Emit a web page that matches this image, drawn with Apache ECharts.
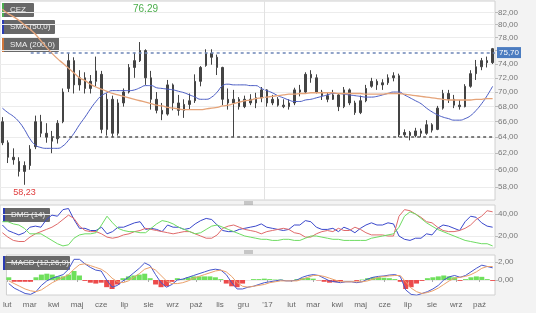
<!DOCTYPE html>
<html><head><meta charset="utf-8">
<script src="https://cdn.jsdelivr.net/npm/echarts@6/dist/echarts.min.js"></script>
<style>html,body{margin:0;padding:0;background:#f3f3f3}#c{width:536px;height:313px}</style>
</head><body><div id="c"></div>
<script>
// ---- data (weekly, CEZ) ----
const firstWeek = '2016-02-03';
const ohlcOpen  = [66.0,63.3,61.5,61.0,59.8,60.5,62.8,66.0,64.5,64.0, 63.8,66.0,70.5,74.5,71.0,72.0,70.5,71.5,72.5,65.0, 69.0,64.5,68.5,70.0,73.5,74.5,76.0,72.0,69.0,67.5, 67.0,71.0,68.5,67.5,68.3,68.8,71.5,73.8,75.6,75.0, 73.5,69.0,68.5,69.0,68.0,69.0,68.5,69.2,70.3,68.5, 69.0,68.2,68.0,68.5,70.3,70.0,72.5,72.0,70.0,69.5, 69.0,69.6,68.0,70.3,68.5,67.2,68.8,70.8,71.5,71.0, 71.3,72.0,72.3,64.3,64.6,64.2,64.8,64.5,65.6,65.0, 67.8,69.8,69.0,68.2,68.0,70.8,72.6,73.6,74.5,74.2];
const ohlcClose = [63.3,61.5,61.2,59.8,60.5,62.5,66.0,64.5,64.0,63.5, 65.8,70.0,74.5,71.0,72.0,70.5,71.5,73.0,65.0,69.0, 64.5,68.5,70.0,73.5,74.5,76.0,72.0,69.0,67.5,67.0, 71.0,68.5,67.5,68.3,68.8,71.5,73.5,75.6,75.0,73.5, 69.0,68.5,69.0,68.0,69.0,68.5,69.2,70.3,68.5,69.0, 68.2,68.0,68.5,70.3,70.0,72.5,72.0,70.0,69.5,69.0, 69.6,68.0,70.3,68.5,67.2,68.8,70.5,71.5,71.0,71.3, 72.0,72.3,64.3,64.6,64.2,64.8,64.5,65.6,64.9,67.8, 69.8,69.0,68.2,68.0,70.8,72.6,73.6,74.5,74.2,76.29];
const ohlcLow   = [63.0,60.8,60.6,59.2,58.23,60.0,62.5,64.0,63.3,62.0, 63.2,65.8,70.0,69.8,70.2,69.8,69.8,70.8,64.5,64.2, 64.0,64.2,68.0,69.8,72.0,74.3,71.0,67.6,67.1,66.2, 66.8,67.5,66.8,66.5,67.6,68.5,70.8,73.6,73.9,72.4, 68.2,67.6,64.0,67.6,67.8,68.2,67.8,68.6,68.0,68.2, 68.0,67.8,67.6,68.2,69.4,69.8,71.3,69.8,68.9,68.6, 68.9,67.4,67.8,68.2,66.9,67.0,68.6,70.6,70.3,70.3, 71.0,71.5,64.0,64.0,63.6,64.0,64.0,64.3,64.6,64.9, 67.6,68.5,67.8,67.6,67.9,70.6,71.7,73.1,73.5,74.0];
const ohlcHigh  = [66.6,63.6,62.6,61.5,61.0,63.0,66.8,66.9,65.8,64.8, 66.2,70.5,75.6,75.0,73.1,72.8,72.4,75.1,73.0,69.8, 69.5,69.0,70.5,74.0,75.7,77.3,76.2,73.0,70.0,68.5, 71.7,71.2,69.6,69.0,69.8,72.5,73.7,76.2,76.2,75.4, 73.6,70.5,70.3,69.3,69.5,69.7,69.9,70.7,70.4,69.6, 69.3,69.0,69.0,70.6,71.0,72.8,73.1,72.5,70.3,70.0, 70.3,69.8,70.7,70.5,68.8,69.5,71.0,72.0,71.8,71.8, 72.5,72.8,72.6,65.0,64.8,65.2,65.1,66.2,65.8,68.1, 70.3,70.3,69.6,68.9,71.1,73.1,74.6,74.9,75.1,76.4];
const sma50  = [67.8,67.2,66.7,66.0,65.0,63.8,63.0,62.7,62.6,62.6, 62.6,62.9,63.6,64.5,65.6,66.6,67.7,68.7,69.5,69.9, 70.2,70.2,70.2,70.2,70.3,70.6,70.9,70.9,70.6,70.5, 70.4,70.3,70.1,69.9,69.6,69.3,69.0,69.0,69.3,70.0, 70.9,71.1,71.0,71.0,71.0,70.9,70.9,70.5,70.2,69.9, 69.5,69.2,68.9,68.7,68.7,68.9,69.0,69.2,69.4,69.6, 69.8,69.8,69.7,69.6,69.5,69.4,69.3,69.3,69.4,69.6, 69.8,70.0,70.0,69.6,69.2,68.8,68.4,67.8,67.3,66.9, 66.6,66.4,66.2,66.2,66.4,66.8,67.5,68.4,69.5,70.8];
const sma200 = [82.5,81.8,81.3,80.7,80.0,79.3,78.5,77.5,76.5,75.6, 74.8,74.1,73.4,72.7,72.0,71.6,71.1,70.7,70.4,70.1, 69.8,69.6,69.4,69.2,69.0,68.8,68.6,68.4,68.2,68.1, 67.9,67.8,67.7,67.6,67.6,67.6,67.6,67.7,67.8,67.9, 68.1,68.2,68.4,68.6,68.8,68.9,69.1,69.2,69.3,69.4, 69.5,69.6,69.7,69.7,69.8,69.8,69.9,69.9,69.9,69.9, 69.9,69.8,69.8,69.8,69.8,69.8,69.7,69.7,69.7,69.7, 69.8,69.8,69.8,69.7,69.6,69.5,69.4,69.3,69.2,69.1, 69.0,68.9,68.9,68.9,68.9,68.9,69.0,69.0,69.1,69.1];
const dmsPlus  = [30,25,23,21,23,28,29,28,35,39, 38,44,45,35,27,27,25,25,28,22, 24,28,28,30,32,33,26,27,26,24, 30,28,28,26,27,31,34,36,35,30, 25,24,24,26,27,28,29,31,28,27, 26,25,26,30,30,34,33,28,26,26, 27,24,28,26,23,27,30,32,30,30, 32,31,20,17,16,18,18,22,21,27, 30,29,27,25,33,38,37,32,29,28];
const dmsMinus = [23,19,16,15,15,19,22,24,26,28, 31,35,39,36,29,25,24,24,22,19, 18,19,21,22,24,25,27,26,25,24, 23,22,23,24,24,22,20,18,18,21, 27,29,30,28,26,25,24,22,24,25, 26,27,26,23,22,19,19,22,24,25, 24,27,25,25,28,26,23,21,21,21, 20,20,38,44,43,40,37,33,32,28, 25,24,24,25,27,30,35,38,43,42];
const adx      = [33,33,31,30,27,22,22,22,19,16, 13,11,12,18,21,22,22,23,30,38, 32,27,25,24,24,23,23,27,31,34, 33,31,28,26,24,22,23,26,29,30, 28,26,24,22,20,19,18,17,17,16, 16,17,17,16,16,18,20,20,19,18, 17,17,16,16,16,16,16,18,19,20, 21,22,28,38,42,40,36,32,29,26, 24,22,20,18,16,15,14,13,13,11];
const macdLine = [-0.4,-0.9,-1.2,-1.5,-1.6,-1.3,-0.6,-0.1,0.2,0.4, 0.6,1.2,2.3,2.3,1.8,1.4,1.1,1.0,0.0,-0.8, -0.6,-0.1,0.3,0.8,1.3,1.9,1.6,0.6,-0.3,-0.8, -0.5,0.0,0.1,0.3,0.5,0.7,0.9,1.1,1.2,1.1, 0.6,-0.3,-1.0,-1.0,-0.8,-0.7,-0.5,-0.3,-0.2,-0.1, 0.0,-0.1,-0.1,0.0,0.3,0.5,0.6,0.5,0.2,-0.1, -0.2,-0.3,-0.2,-0.2,-0.3,-0.2,0.1,0.3,0.4,0.45, 0.55,0.6,0.4,-1.1,-1.6,-1.7,-1.5,-1.3,-1.0,-0.6, 0.0,0.35,0.5,0.3,0.5,0.9,1.3,1.65,1.5,1.35];
const macdSignal = [-0.1,-0.4,-0.7,-1.0,-1.2,-1.3,-1.1,-0.7,-0.3,0.0, 0.3,0.6,1.2,1.7,1.8,1.6,1.4,1.2,0.8,0.2, -0.2,-0.3,-0.1,0.3,0.7,1.2,1.4,1.1,0.5,-0.1, -0.4,-0.4,-0.3,-0.1,0.2,0.4,0.6,0.8,1.0,1.1, 0.9,0.4,-0.3,-0.7,-0.8,-0.7,-0.6,-0.5,-0.3,-0.2, -0.1,-0.1,-0.1,-0.1,0.1,0.3,0.5,0.5,0.4,0.2, 0.0,-0.2,-0.2,-0.2,-0.2,-0.2,-0.1,0.1,0.3,0.4, 0.45,0.5,0.5,-0.2,-0.9,-1.3,-1.5,-1.4,-1.2,-0.9, -0.5,-0.1,0.2,0.3,0.4,0.6,0.9,1.3,1.5,1.5];
const macdHist = [0.3,-0.2,-0.2,-0.2,-0.2,0.3,0.6,0.7,0.6,0.4, 0.4,0.6,1.0,0.5,-0.1,-0.3,-0.4,-0.3,-0.8,-1.0, -0.5,0.2,0.4,0.5,0.6,0.7,0.2,-0.5,-0.8,-0.7, -0.2,0.2,0.1,0.3,0.4,0.4,0.4,0.4,0.3,0.1, -0.4,-0.7,-0.8,-0.4,0.0,0.1,0.1,0.15,0.1,0.05, 0.05,0.0,0.0,0.1,0.2,0.25,0.15,-0.05,-0.2,-0.3, -0.25,-0.15,0.0,0.0,-0.1,0.05,0.2,0.3,0.3,0.25, 0.2,0.1,-0.2,-1.0,-0.8,-0.4,-0.1,0.2,0.3,0.4, 0.5,0.4,0.3,-0.1,0.1,0.3,0.4,0.35,0.1,-0.1];
const priceTicks = [58,60,62,64,66,68,70,72,74,76,78,80,82];
const dmsTicks = [20,40];
const macdTicks = [0,2];
const monthTickDates = ['2016-02-01','2016-03-01','2016-04-01','2016-05-01','2016-06-01','2016-07-01','2016-08-01','2016-09-01','2016-10-01','2016-11-01','2016-12-01','2017-01-01','2017-02-01','2017-03-01','2017-04-01','2017-05-01','2017-06-01','2017-07-01','2017-08-01','2017-09-01','2017-10-01'];
const monthTickLabels = ['lut','mar','kwi','maj','cze','lip','sie','wrz','paź','lis','gru',"'17",'lut','mar','kwi','maj','cze','lip','sie','wrz','paź'];
const resistance = {from:'2016-03-10', value:75.70};
const support = {from:'2016-04-05', value:64.00};
const lowPoint = {week:4, value:58.23};
const xRange = ['2016-01-31','2017-10-21'];
const yearLine = '2017-01-01';

// ---- build ----
const DAY = 864e5;
function ts(s){const p=s.split('-').map(Number);return Date.UTC(p[0],p[1]-1,p[2]);}
const weeks = ohlcOpen.map((_,i)=>ts(firstWeek)+i*7*DAY);
const fmt2 = v => (Math.round(v*100)/100).toFixed(2).replace('.',',');
const pair = arr => arr.map((v,i)=>[weeks[i],v]);
const tickTimes = monthTickDates.map(ts);
const xMin = ts(xRange[0]), xMax = ts(xRange[1]);

const xBase = (gi,show)=>({type:'value',gridIndex:gi,min:xMin,max:xMax,scale:true,
  axisLine:{show:false},splitLine:{show:false},
  axisTick:{show:show,customValues:tickTimes,length:2,lineStyle:{color:'#aaa'}},
  axisLabel:{show:show,customValues:tickTimes,fontSize:8,color:'#666',margin:6,hideOverlap:false,
    formatter:v=>{const k=tickTimes.indexOf(v);return k>=0?monthTickLabels[k]:'';}}});
const yBase = (gi,min,max,ticks,type)=>({type:type||'value',gridIndex:gi,position:'right',min:min,max:max,
  axisLine:{show:false},
  axisTick:{show:true,customValues:ticks,length:3,lineStyle:{color:'#bbb'}},
  axisLabel:{customValues:ticks,fontSize:8,color:'#777',margin:3,formatter:fmt2},
  splitLine:{show:true,lineStyle:{color:'#ececec'}}});

function legendBox(x,y,w,h,strip,text){
  return {type:'group',x:x,y:y,children:[
    {type:'rect',shape:{x:0,y:0,width:w,height:h,r:1},style:{fill:'rgba(88,88,88,0.9)'}},
    {type:'rect',shape:{x:0,y:0,width:2,height:h},style:{fill:strip}},
    {type:'text',style:{x:8,y:h/2,text:text,fill:'#f0f0f0',fontSize:8,fontFamily:'Liberation Sans, Arial, sans-serif',verticalAlign:'middle'}}
  ]};
}

const option = {
  animation:false, backgroundColor:'#f3f3f3',
  grid:[
    {left:0,right:41,top:1,height:199,show:true,backgroundColor:'#fff',borderColor:'#d0d0d0',borderWidth:1},
    {left:0,right:41,top:205,height:43,show:true,backgroundColor:'#fff',borderColor:'#d0d0d0',borderWidth:1},
    {left:0,right:41,top:255,height:40,show:true,backgroundColor:'#fff',borderColor:'#d0d0d0',borderWidth:1}
  ],
  xAxis:[xBase(0,false),xBase(1,false),xBase(2,true)],
  yAxis:[yBase(0,56.5,83.86,priceTicks,'log'),yBase(1,9.1,48.2,dmsTicks),yBase(2,-1.67,2.78,macdTicks)],
  series:[
    {name:'CEZ',type:'candlestick',xAxisIndex:0,yAxisIndex:0,barWidth:2,
      data:weeks.map((t,i)=>[t,ohlcOpen[i],ohlcClose[i],ohlcLow[i],ohlcHigh[i]]),
      itemStyle:{color:'#444',color0:'#444',borderColor:'#444',borderColor0:'#444',borderWidth:1},
      markLine:{symbol:['none','none'],silent:true,label:{show:false},
        data:[
          [{coord:[ts(resistance.from),resistance.value],lineStyle:{color:'#6d86b8',type:[3,3],width:1.5},
            label:{show:true,position:'end',distance:2,formatter:fmt2(resistance.value),color:'#fff',backgroundColor:'#4b7cc0',padding:[2,2,1,2],fontSize:8}},
           {coord:[xMax,resistance.value]}],
          [{coord:[ts(support.from),support.value],lineStyle:{color:'#555',type:[3,3],width:1.5}},
           {coord:[xMax,support.value]}],
          {xAxis:ts(yearLine),lineStyle:{color:'#e2e2e2',type:'solid',width:1}}
        ]},
      markPoint:{symbol:'circle',symbolSize:0,
        data:[{coord:[weeks[lowPoint.week],lowPoint.value],value:lowPoint.value}],
        label:{show:true,position:'bottom',distance:3,formatter:fmt2(lowPoint.value),color:'#e03a3a',fontSize:9}}
    },
    {name:'SMA (50,0)',type:'line',xAxisIndex:0,yAxisIndex:0,data:pair(sma50),showSymbol:false,smooth:true,lineStyle:{color:'#4a5cc4',width:1}},
    {name:'SMA (200,0)',type:'line',xAxisIndex:0,yAxisIndex:0,data:pair(sma200),showSymbol:false,smooth:true,lineStyle:{color:'#e5a47a',width:1.3}},
    {name:'DI+',type:'line',xAxisIndex:1,yAxisIndex:1,data:pair(dmsPlus),showSymbol:false,lineStyle:{color:'#3a48cc',width:1}},
    {name:'DI-',type:'line',xAxisIndex:1,yAxisIndex:1,data:pair(dmsMinus),showSymbol:false,lineStyle:{color:'#e06a6a',width:1}},
    {name:'ADX',type:'line',xAxisIndex:1,yAxisIndex:1,data:pair(adx),showSymbol:false,lineStyle:{color:'#6edc62',width:1}},
    {name:'Hist',type:'bar',xAxisIndex:2,yAxisIndex:2,data:pair(macdHist),barWidth:5,
      itemStyle:{color:p=>p.value[1]>=0?'#6fe05c':'#ec4a4a'}},
    {name:'MACD',type:'line',xAxisIndex:2,yAxisIndex:2,data:pair(macdLine),showSymbol:false,lineStyle:{color:'#4656cc',width:1}},
    {name:'Signal',type:'line',xAxisIndex:2,yAxisIndex:2,data:pair(macdSignal),showSymbol:false,lineStyle:{color:'#eaa06a',width:1}}
  ],
  graphic:[
    legendBox(2,3,32,14,'#4caf50','CEZ'),
    legendBox(2,20,53,14,'#2a3bb5','SMA (50,0)'),
    legendBox(2,37,57,15,'#d0763a','SMA (200,0)'),
    legendBox(3,208,47,14,'#2a3bb5','DMS (14)'),
    legendBox(3,256,67,14,'#2a3bb5','MACD (12,26,9)'),
    {type:'text',x:133,y:4,style:{text:fmt2(ohlcClose[ohlcClose.length-1]),fill:'#4cae4c',fontSize:10,fontFamily:'Liberation Sans, Arial, sans-serif'}},
    {type:'rect',shape:{x:244,y:201.5,width:9,height:1},style:{fill:'#999'}},
    {type:'rect',shape:{x:244,y:203.5,width:9,height:1},style:{fill:'#999'}},
    {type:'rect',shape:{x:244,y:250.5,width:9,height:1},style:{fill:'#999'}},
    {type:'rect',shape:{x:244,y:252.5,width:9,height:1},style:{fill:'#999'}}
  ]
};
const chart = echarts.init(document.getElementById('c'),null,{renderer:'canvas'});
chart.setOption(option);
</script></body></html>
